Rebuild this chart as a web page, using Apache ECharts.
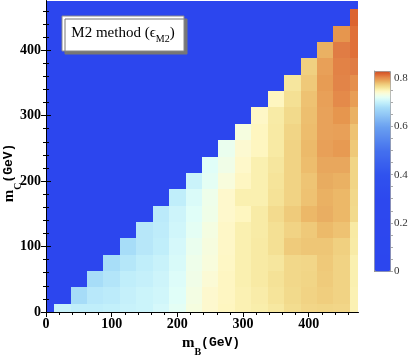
<!DOCTYPE html>
<html>
<head>
<meta charset="utf-8">
<script src="https://cdn.jsdelivr.net/npm/echarts@6/dist/echarts.min.js"></script>
<style>
  html, body { margin: 0; padding: 0; background: #fff; }
  #chart { width: 414px; height: 358px; }
</style>
</head>
<body>
<div id="chart"></div>
<script>
// cell centres (GeV)
const mBValues = [25, 50, 75, 100, 125, 150, 175, 200, 225, 250, 275, 300, 325, 350, 375, 400, 425, 450, 475]
const mCValues = [0, 25, 50, 75, 100, 125, 150, 175, 200, 225, 250, 275, 300, 325, 350, 375, 400, 425, 450]

// efficiency eps_M2, one row per mC; row i starts at mB = mC + 25
const effRows = [
  [0.705, 0.700, 0.700, 0.702, 0.705, 0.707, 0.713, 0.723, 0.736, 0.744, 0.750, 0.754, 0.757, 0.761, 0.767, 0.771, 0.772, 0.771, 0.754],
  [0.680, 0.694, 0.697, 0.703, 0.707, 0.710, 0.720, 0.734, 0.744, 0.749, 0.754, 0.758, 0.763, 0.769, 0.773, 0.776, 0.773, 0.754],
  [0.681, 0.690, 0.700, 0.703, 0.708, 0.718, 0.732, 0.741, 0.749, 0.755, 0.760, 0.764, 0.770, 0.772, 0.777, 0.773, 0.755],
  [0.682, 0.692, 0.700, 0.705, 0.715, 0.730, 0.738, 0.748, 0.755, 0.760, 0.762, 0.770, 0.771, 0.778, 0.773, 0.755],
  [0.681, 0.693, 0.700, 0.713, 0.727, 0.737, 0.747, 0.755, 0.760, 0.765, 0.777, 0.779, 0.779, 0.775, 0.759],
  [0.693, 0.698, 0.710, 0.723, 0.735, 0.747, 0.755, 0.759, 0.765, 0.773, 0.778, 0.784, 0.781, 0.760],
  [0.696, 0.708, 0.720, 0.731, 0.745, 0.750, 0.759, 0.768, 0.777, 0.785, 0.789, 0.785, 0.769],
  [0.700, 0.716, 0.730, 0.745, 0.755, 0.755, 0.764, 0.773, 0.781, 0.788, 0.785, 0.770],
  [0.706, 0.723, 0.738, 0.749, 0.755, 0.763, 0.773, 0.780, 0.790, 0.788, 0.772],
  [0.720, 0.732, 0.746, 0.755, 0.762, 0.773, 0.783, 0.792, 0.792, 0.772],
  [0.727, 0.743, 0.750, 0.760, 0.773, 0.784, 0.795, 0.798, 0.778],
  [0.736, 0.750, 0.760, 0.772, 0.783, 0.794, 0.795, 0.781],
  [0.747, 0.759, 0.769, 0.782, 0.794, 0.800, 0.788],
  [0.750, 0.765, 0.781, 0.795, 0.805, 0.796],
  [0.762, 0.778, 0.797, 0.807, 0.803],
  [0.775, 0.795, 0.808, 0.810],
  [0.788, 0.810, 0.815],
  [0.800, 0.815],
  [0.820]
]

const axisTicks = [0, 100, 200, 300, 400]
const barTicks = [0, 0.2, 0.4, 0.6, 0.8]

// colour map stops [value, colour]
const colorStops = [
  [0, '#2c46ee'], [0.30, '#2d48ee'], [0.40, '#3052ee'], [0.50, '#4470ee'],
  [0.60, '#6aa0f0'], [0.64, '#88bef4'], [0.68, '#a6dcf8'], [0.70, '#c0eefa'],
  [0.71, '#d0f6fa'], [0.72, '#e0fef8'], [0.73, '#eefeea'], [0.738, '#f8fcdc'],
  [0.745, '#fef8cc'], [0.75, '#fef6c0'], [0.755, '#faf0b0'], [0.76, '#f8eaa4'],
  [0.765, '#f4e094'], [0.77, '#f2d88a'], [0.775, '#f0d080'], [0.78, '#eec474'],
  [0.785, '#ecb868'], [0.79, '#e8ac60'], [0.795, '#e8a058'], [0.80, '#e6964e'],
  [0.805, '#e48a4a'], [0.81, '#e07c44'], [0.815, '#e07038'], [0.82, '#dc6430'],
  [0.83, '#c8502a']
]
const vMax = 0.83
const cellSize = 25

const hex = c => [1, 3, 5].map(i => parseInt(c.slice(i, i + 2), 16))
const colorAt = v => {
  for (let i = 1; i < colorStops.length; i++) {
    const [v1, c1] = colorStops[i]
    const [v0, c0] = colorStops[i - 1]
    if (v <= v1) {
      const t = (v - v0) / (v1 - v0)
      const a = hex(c0), b = hex(c1)
      return 'rgb(' + a.map((x, k) => Math.round(x + (b[k] - x) * t)).join(',') + ')'
    }
  }
  return colorStops[colorStops.length - 1][1]
}
// evenly spaced colours for the continuous visualMap
const mapColors = []
for (let i = 0; i <= 332; i++) mapColors.push(colorAt(vMax * i / 332))

const cells = []
effRows.forEach((row, i) => {
  row.forEach((v, k) => cells.push([mBValues[i + k], mCValues[i], v]))
})

const minorOf = (max, step) => {
  const out = []
  for (let v = 0; v < max - 1e-9; v += step) out.push(+v.toFixed(3))
  return out
}

const labelFont = { fontFamily: 'Liberation Serif', fontWeight: 'bold', fontSize: 14, color: '#000' }

const frameAxis = (type, position, ticks, len, withLabels) => ({
  type: 'value', min: 0, max: 475, position,
  axisLine: { show: true, lineStyle: { color: '#000', width: 1 } },
  axisTick: { show: true, inside: true, length: len, customValues: ticks, lineStyle: { color: '#000' } },
  axisLabel: withLabels
    ? Object.assign({ show: true, margin: 5, customValues: axisTicks }, labelFont)
    : { show: false },
  splitLine: { show: false }
})

const chart = echarts.init(document.getElementById('chart'), null, { renderer: 'canvas' })

const titleRich = {
  m: { fontFamily: 'Liberation Serif', fontWeight: 'bold', fontSize: 15, lineHeight: 28, verticalAlign: 'middle' },
  s: { fontFamily: 'Liberation Serif', fontWeight: 'bold', fontSize: 10, lineHeight: 10, verticalAlign: 'bottom' },
  g: { fontFamily: 'Liberation Mono', fontWeight: 'bold', fontSize: 13, lineHeight: 28, verticalAlign: 'middle' }
}

chart.setOption({
  animation: false,
  grid: [
    { left: 46, right: 56, top: 1, bottom: 46, show: true, backgroundColor: '#2c46ee', borderWidth: 0 },
    { left: 374, top: 71, width: 16, height: 200, show: false }
  ],
  xAxis: [
    frameAxis('x', 'bottom', axisTicks, 5, true),
    frameAxis('x', 'bottom', minorOf(475, 20), 3, false),
    frameAxis('x', 'top', axisTicks, 5, false),
    frameAxis('x', 'top', minorOf(475, 20), 3, false),
    { gridIndex: 1, type: 'value', show: false }
  ],
  yAxis: [
    frameAxis('y', 'left', axisTicks, 5, true),
    frameAxis('y', 'left', minorOf(475, 20), 3, false),
    frameAxis('y', 'right', axisTicks, 5, false),
    frameAxis('y', 'right', minorOf(475, 20), 3, false),
    {
      gridIndex: 1, type: 'value', min: 0, max: vMax, position: 'right',
      axisLine: { show: true, lineStyle: { color: '#999' } },
      axisTick: { show: true, inside: false, length: 5, customValues: barTicks, lineStyle: { color: '#888' } },
      axisLabel: {
        show: true, margin: 4, customValues: barTicks, formatter: v => String(+v.toFixed(1)),
        fontFamily: 'Liberation Serif', fontSize: 11, color: '#333'
      },
      splitLine: { show: false }
    },
    {
      gridIndex: 1, type: 'value', min: 0, max: vMax, position: 'right',
      axisLine: { show: false },
      axisTick: { show: true, inside: false, length: 3, customValues: minorOf(0.8, 0.05), lineStyle: { color: '#aaa' } },
      axisLabel: { show: false },
      splitLine: { show: false }
    }
  ],
  visualMap: {
    type: 'continuous', min: 0, max: vMax, dimension: 2, seriesIndex: 0,
    calculable: false, hoverLink: false, orient: 'vertical',
    left: 374, top: 71, itemWidth: 16, itemHeight: 200, padding: 0,
    borderColor: '#999', borderWidth: 1,
    inRange: { color: mapColors }
  },
  series: [
    {
      type: 'custom',
      xAxisIndex: 0,
      yAxisIndex: 0,
      data: cells,
      renderItem: (params, api) => {
        const x = api.value(0), y = api.value(1)
        const p0 = api.coord([x - cellSize / 2, y + cellSize / 2])
        const p1 = api.coord([x + cellSize / 2, y - cellSize / 2])
        const x0 = Math.round(p0[0]), y0 = Math.round(p0[1])
        const rect = echarts.graphic.clipRectByRect(
          { x: x0, y: y0, width: Math.round(p1[0]) - x0, height: Math.round(p1[1]) - y0 },
          { x: params.coordSys.x, y: params.coordSys.y, width: params.coordSys.width, height: params.coordSys.height }
        )
        return rect && { type: 'rect', shape: rect, style: { fill: api.visual('color') } }
      }
    }
  ],
  graphic: [
    {
      type: 'rect', shape: { x: 62, y: 16, width: 122, height: 35 }, z: 100,
      style: { fill: '#fff', stroke: '#888', lineWidth: 1, shadowColor: '#777', shadowOffsetX: 3, shadowOffsetY: 3, shadowBlur: 0 }
    },
    {
      type: 'text', x: 123, y: 33, z: 101,
      style: {
        text: '{a|M2 method (}{e|ϵ}{s|M2}{a|)}',
        align: 'center', verticalAlign: 'middle',
        rich: {
          a: { fontFamily: 'Liberation Serif', fontSize: 15, lineHeight: 22, verticalAlign: 'middle', fill: '#000' },
          e: { fontFamily: 'Liberation Serif', fontSize: 15, lineHeight: 22, verticalAlign: 'middle', fill: '#000' },
          s: { fontFamily: 'Liberation Serif', fontSize: 10, lineHeight: 12, verticalAlign: 'bottom', fill: '#000' }
        }
      }
    },
    {
      type: 'text', x: 211, y: 343,
      style: { text: '{m|m}{s|B}{g|(GeV)}', align: 'center', verticalAlign: 'middle', rich: titleRich }
    },
    {
      type: 'text', x: 9, y: 173, rotation: Math.PI / 2,
      style: { text: '{m|m}{s|C}{g|(GeV)}', align: 'center', verticalAlign: 'middle', rich: titleRich }
    }
  ]
})
</script>
</body>
</html>
